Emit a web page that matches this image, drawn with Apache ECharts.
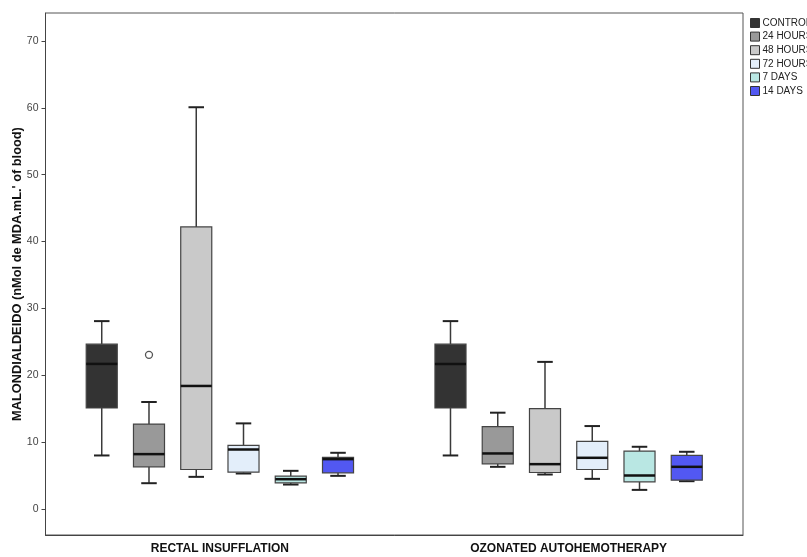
<!DOCTYPE html>
<html>
<head>
<meta charset="utf-8">
<script src="https://cdn.jsdelivr.net/npm/echarts@6/dist/echarts.min.js"></script>
<style>
  html, body { margin: 0; padding: 0; background: #fff; }
  #chart { width: 807px; height: 557px; }
</style>
</head>
<body>
<div id="chart"></div>
<script>
// ---- data ----
const categories = ['RECTAL INSUFFLATION', 'OZONATED AUTOHEMOTHERAPY'];
const seriesNames = ['CONTROL', '24 HOURS', '48 HOURS', '72 HOURS', '7 DAYS', '14 DAYS'];
const yTicks = [0, 10, 20, 30, 40, 50, 60, 70];
// each entry: [min, Q1, median, Q3, max] for [RECTAL, OZONATED]
const controlStats = [[8.0, 15.1, 21.7, 24.65, 28.1], [8.0, 15.1, 21.7, 24.65, 28.1]];
const h24Stats     = [[3.85, 6.3, 8.2, 12.7, 16.0], [6.3, 6.75, 8.3, 12.3, 14.4]];
const h48Stats     = [[4.8, 5.9, 18.4, 42.2, 60.1], [5.15, 5.45, 6.7, 15.0, 22.0]];
const h72Stats     = [[5.3, 5.5, 8.9, 9.5, 12.8], [4.5, 5.9, 7.65, 10.1, 12.4]];
const d7Stats      = [[3.65, 3.9, 4.45, 4.9, 5.7], [2.85, 4.05, 5.0, 8.65, 9.3]];
const d14Stats     = [[4.95, 5.4, 7.45, 7.7, 8.4], [4.15, 4.3, 6.3, 8.0, 8.55]];
// outliers: [seriesIndex, categoryIndex, value]
const outliers = [[1, 0, 23.05]];

const allStats = [controlStats, h24Stats, h48Stats, h72Stats, d7Stats, d14Stats];
const fillColors = ['#333333', '#999999', '#c9c9c9', '#e3eefa', '#b9e7e3', '#5258f2'];

function makeRender(sIdx) {
  return function (params, api) {
    const ci = api.value(0);
    const mn = api.value(1), q1 = api.value(2), md = api.value(3), q3 = api.value(4), mx = api.value(5);
    const band = api.size([1, 0])[0];
    const cx = api.coord([ci, 0])[0] + (sIdx - 2.5) * band * 0.1355;
    const bw = band * 0.089;
    const cap = bw / 2;
    const y = v => api.coord([ci, v])[1];
    const children = [
      { type: 'line', shape: { x1: cx, y1: y(mx), x2: cx, y2: y(q3) }, style: { stroke: '#3a3a3a', lineWidth: 1.5 } },
      { type: 'line', shape: { x1: cx, y1: y(q1), x2: cx, y2: y(mn) }, style: { stroke: '#3a3a3a', lineWidth: 1.5 } },
      { type: 'line', shape: { x1: cx - cap / 2, y1: y(mx), x2: cx + cap / 2, y2: y(mx) }, style: { stroke: '#222', lineWidth: 2 } },
      { type: 'line', shape: { x1: cx - cap / 2, y1: y(mn), x2: cx + cap / 2, y2: y(mn) }, style: { stroke: '#222', lineWidth: 2 } },
      { type: 'rect', shape: { x: cx - bw / 2, y: y(q3), width: bw, height: y(q1) - y(q3) },
        style: { fill: fillColors[sIdx], stroke: '#444', lineWidth: 1.2 } },
      { type: 'line', shape: { x1: cx - bw / 2, y1: y(md), x2: cx + bw / 2, y2: y(md) }, style: { stroke: '#111', lineWidth: 2.5 } }
    ];
    outliers.forEach(o => {
      if (o[0] === sIdx && o[1] === ci) {
        children.push({ type: 'circle', shape: { cx: cx, cy: y(o[2]), r: 3.5 },
          style: { fill: '#fff', stroke: '#555', lineWidth: 1.3 } });
      }
    });
    return { type: 'group', children: children };
  };
}

const series = seriesNames.map((name, sIdx) => ({
  name: name,
  type: 'custom',
  renderItem: makeRender(sIdx),
  encode: { x: 0, y: [1, 2, 3, 4, 5] },
  itemStyle: { color: fillColors[sIdx], borderColor: '#333', borderWidth: 1 },
  clip: false,
  data: allStats[sIdx].map((s, ci) => [ci].concat(s))
}));

const chart = echarts.init(document.getElementById('chart'));
chart.setOption({
  animation: false,
  backgroundColor: '#fff',
  grid: { left: 45.5, right: 64, top: 13, bottom: 22, containLabel: false, outerBoundsMode: 'none',
          show: true, borderColor: '#555', borderWidth: 1 },
  legend: {
    data: seriesNames,
    orient: 'vertical',
    left: 745,
    top: 13,
    icon: 'rect',
    itemWidth: 9,
    itemHeight: 9,
    itemGap: 3.6,
    itemStyle: { borderColor: '#333', borderWidth: 1 },
    textStyle: { fontFamily: 'Liberation Sans, Arial, sans-serif', fontSize: 10, color: '#222', lineHeight: 9, padding: [0, 0, 0, -2] },
    selectedMode: false
  },
  xAxis: {
    type: 'category',
    data: categories,
    axisLine: { onZero: false, lineStyle: { color: '#444', width: 1 } },
    axisTick: { alignWithLabel: true, length: 5, lineStyle: { color: '#444' } },
    axisLabel: { fontFamily: 'Liberation Sans, Arial, sans-serif', fontWeight: 'bold', fontSize: 12, color: '#111', margin: 8 },
    splitLine: { show: false }
  },
  yAxis: {
    type: 'value',
    min: -3.9,
    max: 74.2,
    name: "MALONDIALDEIDO (nMol de MDA.mL.' of blood)",
    nameLocation: 'middle',
    nameGap: 22,
    nameMoveOverlap: false,
    nameTextStyle: { fontFamily: 'Liberation Sans, Arial, sans-serif', fontWeight: 'bold', fontSize: 12.8, color: '#111' },
    axisLine: { show: true, lineStyle: { color: '#444', width: 1 } },
    axisTick: { show: true, length: 4, customValues: yTicks, lineStyle: { color: '#444' } },
    axisLabel: { customValues: yTicks, fontFamily: 'Liberation Sans, Arial, sans-serif', fontSize: 10.5, color: '#444', margin: 7 },
    splitLine: { show: false }
  },
  series: series
});
</script>
</body>
</html>
